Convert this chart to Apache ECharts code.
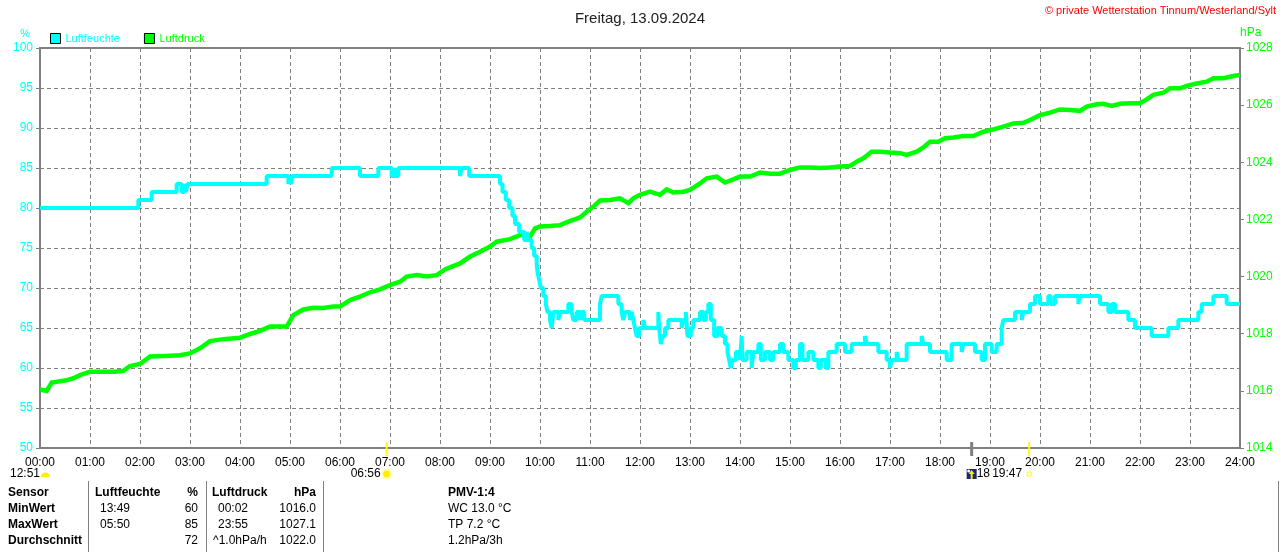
<!DOCTYPE html>
<html><head><meta charset="utf-8">
<script src="https://cdn.jsdelivr.net/npm/echarts/dist/echarts.min.js"></script>
<style>html,body{margin:0;padding:0;background:#fff}#c{width:1280px;height:552px}</style>
</head><body><div id="c"></div>
<script>
const chartTitle = 'Freitag, 13.09.2024';
const copyright = '\u00A9 private Wetterstation Tinnum/Westerland/Sylt';
const seriesNames = ['Luftfeuchte', 'Luftdruck'];
const humUnit = '%';
const presUnit = 'hPa';

// Luftfeuchte (%) – change points [time, value]
const humReadings = [
 ['00:00',80],['01:58',81],['02:14',82],['02:44',83],['02:50',82],['02:53',83],['02:55',82],['02:57',83],
 ['04:32',84],['04:58',83],['05:00',84],['05:01',83],['05:03',84],['05:50',85],['06:24',84],['06:46',85],
 ['07:02',84],['07:05',85],['07:07',84],['07:10',85],['08:24',84],['08:26',85],['08:35',84],
 ['09:12',83],['09:15',82],['09:19',81],['09:23',80],['09:27',79],['09:30',78],['09:35',77],['09:41',76],
 ['09:44',77],['09:46',76],['09:50',75],['09:53',74],['09:56',73],['09:57',72],['09:59',71],['10:01',70],
 ['10:04',69],['10:07',68],['10:09',67],['10:12',66],['10:14',65],['10:16',67],['10:22',66],['10:24',67],
 ['10:34',68],['10:38',67],['10:40',66],['10:44',67],['10:48',66],['10:50',67],['10:53',66],['11:12',68],
 ['11:14',69],['11:34',68],['11:38',67],['11:40',66],['11:42',67],['11:48',66],['11:50',67],['11:52',66],
 ['11:54',65],['11:56',64],['11:59',65],['12:04',66],['12:06',65],['12:22',67],['12:23',65],['12:25',63],
 ['12:27',64],['12:30',65],['12:34',66],['12:50',65],['12:52',66],['12:55',67],['12:57',64],['13:01',65],
 ['13:04',66],['13:12',67],['13:16',66],['13:19',67],['13:22',68],['13:25',66],['13:29',64],['13:33',65],
 ['13:38',64],['13:42',63],['13:45',62],['13:47',61],['13:49',60],['13:51',61],['13:55',62],['14:00',61],
 ['14:02',64],['14:03',61],['14:08',62],['14:14',60],['14:16',62],['14:22',63],['14:25',61],['14:30',62],
 ['14:36',61],['14:40',62],['14:48',63],['14:52',62],['14:58',61],['15:04',60],['15:07',61],['15:12',63],
 ['15:15',61],['15:22',62],['15:28',61],['15:34',60],['15:37',61],['15:43',60],['15:46',62],['15:56',63],
 ['16:06',62],['16:14',63],['16:30',64],['16:32',63],['16:46',62],['16:56',61],['17:00',60],['17:02',61],
 ['17:08',62],['17:10',61],['17:20',63],['17:38',64],['17:40',63],['17:48',62],['18:08',61],['18:14',63],
 ['18:26',62],['18:28',63],['18:42',62],['18:50',61],['18:54',63],['19:02',62],['19:08',63],['19:14',65],
 ['19:16',66],['19:30',67],['19:38',66],['19:40',67],['19:48',68],['19:54',69],['20:00',68],['20:10',69],
 ['20:13',68],['20:18',69],['20:46',68],['20:48',69],['21:12',68],['21:22',67],['21:26',68],['21:30',67],
 ['21:46',66],['21:54',65],['22:14',64],['22:34',65],['22:46',66],['23:10',67],['23:14',68],['23:28',69],
 ['23:44',68],['24:00',68]
];

// Luftdruck (hPa) – readings [time, value]
const presReadings = [
 ['00:00',1016.05],['00:08',1016.00],['00:14',1016.29],['00:30',1016.36],['00:40',1016.44],['00:48',1016.55],
 ['01:00',1016.67],['01:12',1016.67],['01:30',1016.67],['01:40',1016.70],['01:48',1016.87],['02:00',1016.94],
 ['02:12',1017.20],['02:30',1017.22],['02:48',1017.25],['03:00',1017.31],['03:12',1017.49],['03:24',1017.74],
 ['03:40',1017.81],['04:00',1017.86],['04:12',1017.99],['04:24',1018.10],['04:36',1018.25],['04:56',1018.25],
 ['05:04',1018.65],['05:16',1018.85],['05:28',1018.91],['05:40',1018.90],['05:52',1018.95],['06:00',1018.95],
 ['06:12',1019.18],['06:24',1019.30],['06:36',1019.45],['06:48',1019.55],['07:00',1019.70],['07:12',1019.82],
 ['07:20',1020.00],['07:32',1020.05],['07:44',1020.00],['07:56',1020.05],['08:06',1020.25],['08:12',1020.32],
 ['08:24',1020.46],['08:36',1020.70],['08:48',1020.87],['09:00',1021.05],['09:08',1021.22],['09:24',1021.31],
 ['09:36',1021.45],['09:42',1021.51],['09:48',1021.40],['09:54',1021.69],['10:00',1021.75],['10:12',1021.77],
 ['10:24',1021.80],['10:34',1021.92],['10:48',1022.07],['10:56',1022.27],['11:04',1022.45],['11:12',1022.66],
 ['11:24',1022.68],['11:36',1022.74],['11:46',1022.57],['11:52',1022.74],['12:00',1022.86],['12:12',1022.97],
 ['12:24',1022.86],['12:32',1023.05],['12:40',1022.94],['12:52',1022.97],['13:00',1023.03],['13:12',1023.26],
 ['13:20',1023.44],['13:32',1023.50],['13:42',1023.29],['13:52',1023.40],['14:00',1023.50],['14:12',1023.50],
 ['14:24',1023.64],['14:36',1023.60],['14:48',1023.60],['15:00',1023.73],['15:12',1023.82],['15:24',1023.82],
 ['15:36',1023.80],['15:48',1023.82],['16:00',1023.85],['16:12',1023.87],['16:20',1024.02],['16:28',1024.14],
 ['16:38',1024.37],['16:48',1024.37],['17:00',1024.34],['17:12',1024.32],['17:20',1024.26],['17:32',1024.37],
 ['17:40',1024.52],['17:48',1024.72],['17:58',1024.72],['18:06',1024.84],['18:16',1024.87],['18:28',1024.92],
 ['18:40',1024.92],['18:52',1025.07],['19:04',1025.15],['19:16',1025.25],['19:28',1025.36],['19:40',1025.38],
 ['19:48',1025.48],['20:00',1025.65],['20:12',1025.74],['20:24',1025.85],['20:36',1025.83],['20:48',1025.80],
 ['20:56',1025.95],['21:08',1026.03],['21:16',1026.05],['21:26',1025.97],['21:36',1026.05],['21:48',1026.07],
 ['22:00',1026.07],['22:08',1026.20],['22:16',1026.36],['22:28',1026.44],['22:36',1026.59],['22:48',1026.59],
 ['22:56',1026.67],['23:08',1026.76],['23:20',1026.82],['23:28',1026.94],['23:40',1026.94],['23:52',1027.02],
 ['24:00',1027.06]
];

// axis ranges
const humAxis = [50, 100, 5];
const presAxis = [1014, 1028, 2];
const timeAxis = [0, 1440, 60];

// astro events under the time axis
const sunrise = '06:56';
const sunset = '19:47';
const moonMark = '18:38';
const moonTimeLabel = '12:51';
const moonAgeLabel = '18';

// table
const tableHead = ['Sensor', 'Luftfeuchte', '%', 'Luftdruck', 'hPa', 'PMV-1:4'];
const rowLabels = ['MinWert', 'MaxWert', 'Durchschnitt'];
const humStatTimes = ['13:49', '05:50', ''];
const humStats = ['60', '85', '72'];
const presStatTimes = ['00:02', '23:55', '^1.0hPa/h'];
const presStats = ['1016.0', '1027.1', '1022.0'];
const pmvLines = ['WC 13.0 \u00B0C', 'TP 7.2 \u00B0C', '1.2hPa/3h'];

function toMin(t){ const p = t.split(':'); return (+p[0])*60 + (+p[1]); }
function pad(n){ return (n < 10 ? '0' : '') + n; }

const FONT = 'Liberation Sans, Arial, sans-serif';
const CYAN = '#00ffff', GREEN = '#00ff00', GRAY = '#808080';

const chart = echarts.init(document.getElementById('c'));
chart.setOption({
  animation: false,
  backgroundColor: '#fff',
  textStyle: { fontFamily: FONT },
  title: { text: chartTitle, left: 'center', top: 6,
    textStyle: { fontSize: 15, fontWeight: 'normal', color: '#202020', fontFamily: FONT } },
  legend: {
    left: 45, top: 28, icon: 'rect', itemWidth: 10, itemHeight: 10, itemGap: 24,
    itemStyle: { borderColor: '#000', borderWidth: 1 },
    data: [
      { name: seriesNames[0], textStyle: { color: CYAN } },
      { name: seriesNames[1], textStyle: { color: GREEN } }
    ],
    textStyle: { fontSize: 11, fontFamily: FONT }
  },
  grid: { left: 40, right: 40, top: 48, bottom: 104, show: true, borderColor: GRAY, borderWidth: 2 },
  xAxis: {
    type: 'value', min: timeAxis[0], max: timeAxis[1], interval: timeAxis[2],
    axisLine: { show: true, lineStyle: { color: GRAY, width: 2 } },
    axisTick: { show: false },
    axisLabel: { color: '#000', fontSize: 12, margin: 9, fontFamily: FONT,
      formatter: v => pad(Math.round(v / 60)) + ':00' },
    splitLine: { show: true, lineStyle: { color: GRAY, type: [4, 3], width: 1 } }
  },
  yAxis: [
    { type: 'value', position: 'left', min: humAxis[0], max: humAxis[1], interval: humAxis[2],
      name: humUnit, nameLocation: 'end', nameGap: 9,
      nameTextStyle: { color: CYAN, fontSize: 11, align: 'right', padding: [0, 10, 0, 0], fontFamily: FONT },
      axisLine: { show: true, lineStyle: { color: GRAY, width: 2 } },
      axisTick: { show: true, length: 4, lineStyle: { color: GRAY, width: 1 } },
      axisLabel: { color: CYAN, fontSize: 12, margin: 7, fontFamily: FONT, formatter: v => String(v) },
      splitLine: { show: true, lineStyle: { color: GRAY, type: [4, 3], width: 1 } } },
    { type: 'value', position: 'right', min: presAxis[0], max: presAxis[1], interval: presAxis[2],
      name: presUnit, nameLocation: 'end', nameGap: 9,
      nameTextStyle: { color: GREEN, fontSize: 12, align: 'left', padding: [0, 0, 0, 0], fontFamily: FONT },
      axisLine: { show: true, lineStyle: { color: GRAY, width: 2 } },
      axisTick: { show: true, length: 4, lineStyle: { color: GRAY, width: 1 } },
      axisLabel: { color: GREEN, fontSize: 12, margin: 6, fontFamily: FONT, formatter: v => String(v) },
      splitLine: { show: false } }
  ],
  series: [
    { name: seriesNames[0], type: 'line', yAxisIndex: 0, step: 'end', showSymbol: false, symbol: 'none',
      z: 4, color: CYAN, lineStyle: { color: CYAN, width: 4 },
      data: humReadings.map(r => [toMin(r[0]), r[1]]) },
    { name: seriesNames[1], type: 'line', yAxisIndex: 1, showSymbol: false, symbol: 'none',
      z: 3, color: GREEN, lineStyle: { color: GREEN, width: 4.5, join: 'miter' },
      data: presReadings.map(r => [toMin(r[0]), r[1]]) }
  ]
});

// graphics: astro markers + table + copyright
const yB = chart.convertToPixel({ yAxisIndex: 0 }, humAxis[0]);
const px = t => chart.convertToPixel({ xAxisIndex: 0 }, toMin(t));
const g = [];
g.push({ type: 'text', right: 4, top: 5, style: { text: copyright, fill: '#ff0000', font: '11px ' + FONT } });

function vtick(x, color, w){
  g.push({ type: 'line', shape: { x1: x, y1: yB - 6, x2: x, y2: yB + 8 }, style: { stroke: color, lineWidth: w }, z: 10 });
}
const xr = px(sunrise), xs = px(sunset), xm = px(moonMark);
vtick(xr, '#ffff00', 2);
vtick(xs, '#ffff00', 2);
vtick(xm, GRAY, 3);
const yl = yB + 26;
// sunrise label + sun icon
g.push({ type: 'text', x: xr - 6, y: yl, style: { text: sunrise, fill: '#000', font: '12px ' + FONT, align: 'right', verticalAlign: 'middle' } });
g.push({ type: 'circle', shape: { cx: xr, cy: yl, r: 5.5 }, style: { fill: '#ffffb0', stroke: null } });
g.push({ type: 'circle', shape: { cx: xr, cy: yl, r: 3.5 }, style: { fill: '#ffee00', stroke: null } });
// moon time label at left
g.push({ type: 'text', x: 10, y: yl, style: { text: moonTimeLabel, fill: '#000', font: '12px ' + FONT, verticalAlign: 'middle' } });
g.push({ type: 'sector', shape: { cx: 45.5, cy: yl + 3, r: 4.5, r0: 0, startAngle: Math.PI, endAngle: Math.PI * 2 }, style: { fill: '#ffee00' } });
// moon icon near the gray marker
g.push({ type: 'rect', shape: { x: xm - 5, y: yl - 5, width: 10, height: 10 }, style: { fill: '#1a237e' } });
g.push({ type: 'polygon', shape: { points: [[xm, yl - 4], [xm + 3, yl], [xm + 1, yl], [xm + 1, yl + 5], [xm - 1, yl + 5], [xm - 1, yl], [xm - 3, yl]] }, style: { fill: '#ffee00' } });
g.push({ type: 'circle', shape: { cx: xm - 3, cy: yl - 3, r: 1.5 }, style: { fill: '#ffffff' } });
g.push({ type: 'text', x: xm + 5, y: yl, style: { text: moonAgeLabel, fill: '#000', font: '12px ' + FONT, verticalAlign: 'middle' } });
// sunset label + icon
g.push({ type: 'text', x: xs - 7, y: yl, style: { text: sunset, fill: '#000', font: '12px ' + FONT, align: 'right', verticalAlign: 'middle' } });
g.push({ type: 'rect', shape: { x: xs - 2, y: yl - 2, width: 4, height: 4 }, style: { fill: null, stroke: '#ffff00', lineWidth: 1 } });

// table
const rowsY = [493, 509, 525, 541];
const sepX = [88, 206, 323, 1278];
sepX.forEach(x => g.push({ type: 'line', shape: { x1: x + 0.5, y1: 481, x2: x + 0.5, y2: 552 }, style: { stroke: GRAY, lineWidth: 1 } }));
function txt(s, x, y, bold, align){
  g.push({ type: 'text', x: x, y: y, style: { text: s, fill: '#000', font: (bold ? 'bold ' : '') + '12px ' + FONT, align: align || 'left', verticalAlign: 'middle' } });
}
txt(tableHead[0], 8, rowsY[0], true);
txt(tableHead[1], 95, rowsY[0], true);
txt(tableHead[2], 198, rowsY[0], true, 'right');
txt(tableHead[3], 212, rowsY[0], true);
txt(tableHead[4], 316, rowsY[0], true, 'right');
txt(tableHead[5], 448, rowsY[0], true);
for (let i = 0; i < 3; i++) {
  const y = rowsY[i + 1];
  txt(rowLabels[i], 8, y, true);
  txt(humStatTimes[i], 100, y, false);
  txt(humStats[i], 198, y, false, 'right');
  txt(presStatTimes[i], presStatTimes[i].indexOf('^') === 0 ? 213 : 218, y, false);
  txt(presStats[i], 316, y, false, 'right');
  txt(pmvLines[i], 448, y, false);
}
chart.setOption({ graphic: g });
</script>
</body></html>
